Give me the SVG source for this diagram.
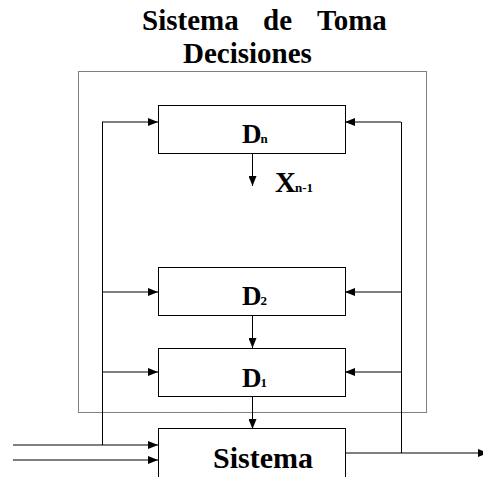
<svg xmlns="http://www.w3.org/2000/svg" width="483" height="477" viewBox="0 0 483 477">
  <style>
    .box { fill: #fff; stroke: #000; stroke-width: 1; }
    .wire { fill: none; stroke: #000; stroke-width: 1; }
    .frame { fill: none; stroke: #000; stroke-width: 1; stroke-dasharray: 1 1; }
    .t { font-family: "Liberation Serif", "Times New Roman", serif; font-weight: bold; fill: #000; }
    .sub { font-size: 13px; }
  </style>
  <defs>
    <marker id="arr" markerWidth="10" markerHeight="8" refX="10" refY="4" orient="auto" markerUnits="userSpaceOnUse">
      <path d="M0,0 L10,4 L0,8 Z" fill="#000"/>
    </marker>
  </defs>

  <!-- title, justified over the first line -->
  <g id="title" class="t" font-size="29">
    <text x="142" y="30">Sistema</text>
    <text x="263" y="30">de</text>
    <text x="317" y="30">Toma</text>
    <text x="183" y="63">Decisiones</text>
  </g>

  <!-- decision-system boundary -->
  <rect class="frame" x="78.5" y="71.5" width="348" height="341"/>

  <!-- connectors -->
  <g id="connectors">
    <!-- left feed bus -->
    <path class="wire" d="M102.5,122 V445"/>
    <path class="wire" d="M102,122 H158" marker-end="url(#arr)"/>
    <path class="wire" d="M102,292 H158" marker-end="url(#arr)"/>
    <path class="wire" d="M102,372 H158" marker-end="url(#arr)"/>
    <!-- right feedback bus -->
    <path class="wire" d="M401.5,122 V453"/>
    <path class="wire" d="M401,122 H345" marker-end="url(#arr)"/>
    <path class="wire" d="M401,292 H345" marker-end="url(#arr)"/>
    <path class="wire" d="M401,372 H345" marker-end="url(#arr)"/>
    <!-- vertical chain -->
    <path class="wire" d="M252.5,154 V186" marker-end="url(#arr)"/>
    <path class="wire" d="M252.5,316 V348" marker-end="url(#arr)"/>
    <path class="wire" d="M252.5,397 V429" marker-end="url(#arr)"/>
    <!-- system inputs and output -->
    <path class="wire" d="M13,445 H158" marker-end="url(#arr)"/>
    <path class="wire" d="M13,460 H158" marker-end="url(#arr)"/>
    <path class="wire" d="M345,453 H488" marker-end="url(#arr)"/>
  </g>

  <g id="Dn">
    <rect class="box" x="158.5" y="105.5" width="187" height="48"/>
    <text class="t" x="242" y="143" font-size="27">D<tspan class="sub" dx="-1">n</tspan></text>
  </g>
  <g id="Xn1">
    <text class="t" x="275" y="192" font-size="29">X<tspan class="sub" font-size="14" dx="-1">n-1</tspan></text>
  </g>
  <g id="D2">
    <rect class="box" x="158.5" y="267.5" width="187" height="48"/>
    <text class="t" x="242" y="305" font-size="27">D<tspan class="sub" dx="-1">2</tspan></text>
  </g>
  <g id="D1">
    <rect class="box" x="158.5" y="348.5" width="187" height="48"/>
    <text class="t" x="242" y="387" font-size="27">D<tspan class="sub" dx="-1">1</tspan></text>
  </g>
  <g id="Sistema">
    <rect class="box" x="158.5" y="428.5" width="187" height="60"/>
    <text class="t" x="263" y="468" font-size="30" text-anchor="middle">Sistema</text>
  </g>
</svg>
